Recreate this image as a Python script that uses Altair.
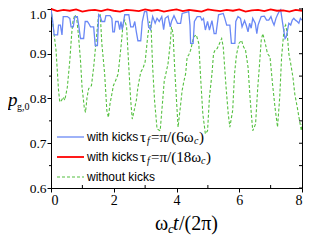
import altair as alt
import pandas as pd

# ---- data ----
blue_t = [0.0, 0.05, 0.1, 0.21, 0.24, 0.3, 0.35, 0.39, 0.52, 0.6, 0.64, 0.71, 0.76, 0.84, 0.89,
          0.94, 1.04, 1.09, 1.16, 1.2, 1.26, 1.36, 1.41, 1.48, 1.52, 1.57, 1.62, 1.71, 1.75, 1.88,
          1.94, 1.97, 2.02, 2.06, 2.14, 2.19, 2.23, 2.27, 2.35, 2.48, 2.54, 2.62, 2.67, 2.72, 2.77,
          2.86, 2.91, 2.98, 3.05, 3.11, 3.17, 3.24, 3.32, 3.38, 3.45, 3.53, 3.59, 3.64, 3.73, 3.8,
          3.84, 3.92, 4.03, 4.13, 4.18, 4.39, 4.43, 4.45, 4.53, 4.57, 4.66, 4.76, 4.81, 4.86, 4.92,
          4.99, 5.05, 5.13, 5.2, 5.26, 5.34, 5.49, 5.54, 5.6, 5.7, 5.75, 5.86, 5.89, 5.96, 6.04,
          6.09, 6.17, 6.22, 6.28, 6.33, 6.38, 6.43, 6.51, 6.56, 6.6, 6.64, 6.7, 6.8, 6.87, 6.94,
          7.01, 7.06, 7.11, 7.17, 7.22, 7.27, 7.32, 7.4, 7.46, 7.5, 7.58, 7.64, 7.69, 7.74, 7.79,
          7.85, 7.9, 7.95, 8.0]
blue_v = [1.0, 0.975, 0.942, 0.942, 0.964, 0.964, 0.942, 0.983, 0.983, 0.979, 0.96, 0.96, 0.983, 0.983, 0.96,
          0.934, 0.934, 0.972, 0.972, 0.968, 0.96, 0.96, 0.918, 0.918, 0.987, 0.983, 0.972, 0.972, 0.985, 0.985,
          0.979, 0.949, 0.949, 0.972, 0.972, 0.954, 0.972, 0.954, 0.987, 0.987, 0.96, 0.96, 0.972, 0.949, 0.929,
          0.929, 0.972, 0.994, 0.994, 0.96, 0.954, 0.983, 0.968, 0.979, 0.972, 0.983, 0.954, 0.979, 0.984, 0.96,
          0.972, 0.985, 0.968, 0.968, 0.99, 0.994, 0.964, 0.923, 0.923, 0.972, 0.983, 0.983, 0.975, 0.979, 0.953,
          0.972, 0.953, 0.974, 0.945, 0.945, 0.987, 0.99, 0.979, 0.964, 0.964, 0.923, 0.923, 0.972, 0.983, 0.979,
          0.96, 0.974, 0.964, 0.949, 0.968, 0.957, 0.979, 0.968, 0.945, 0.964, 0.972, 0.983, 0.984, 0.975, 0.975,
          0.983, 0.972, 0.964, 0.979, 0.987, 0.994, 0.998, 0.96, 0.934, 0.938, 0.968, 0.964, 0.975, 0.979, 0.975,
          0.972, 0.968, 0.979, 0.975]

green_t = [0.0, 0.16, 0.24, 0.28, 0.34, 0.39, 0.44, 0.52, 0.6, 0.66, 0.7, 0.76, 0.82, 0.87, 0.94,
           0.99, 1.06, 1.1, 1.15, 1.2, 1.29, 1.36, 1.44, 1.52, 1.57, 1.62, 1.71, 1.78, 1.83, 1.88,
           1.94, 1.99, 2.06, 2.14, 2.23, 2.3, 2.35, 2.41, 2.48, 2.54, 2.59, 2.65, 2.72, 2.77, 2.86,
           2.93, 3.0, 3.07, 3.14, 3.19, 3.24, 3.3, 3.38, 3.48, 3.56, 3.61, 3.66, 3.73, 3.8, 3.84,
           3.89, 3.94, 4.0, 4.05, 4.11, 4.18, 4.24, 4.29, 4.34, 4.39, 4.45, 4.55, 4.63, 4.71, 4.78,
           4.84, 4.92, 4.99, 5.05, 5.13, 5.18, 5.23, 5.3, 5.37, 5.44, 5.49, 5.58, 5.65, 5.7, 5.79,
           5.85, 5.91, 5.99, 6.07, 6.14, 6.2, 6.28, 6.35, 6.43, 6.52, 6.59, 6.64, 6.7, 6.75, 6.83,
           6.9, 6.98, 7.06, 7.14, 7.22, 7.29, 7.35, 7.43, 7.48, 7.53, 7.58, 7.64, 7.71, 7.77, 7.85,
           7.92, 7.98, 8.0]
green_v = [1.0, 0.908, 0.818, 0.792, 0.796, 0.803, 0.796, 0.825, 0.885, 0.945, 0.972, 0.987, 0.979, 0.945, 0.885,
           0.825, 0.78, 0.769, 0.803, 0.822, 0.829, 0.87, 0.93, 0.99, 0.987, 0.923, 0.855, 0.773, 0.758, 0.788,
           0.81, 0.829, 0.84, 0.855, 0.915, 0.968, 0.975, 0.96, 0.87, 0.796, 0.754, 0.773, 0.796, 0.825, 0.859,
           0.867, 0.882, 0.93, 0.972, 0.96, 0.87, 0.796, 0.732, 0.728, 0.796, 0.84, 0.855, 0.878, 0.923, 0.96,
           0.945, 0.87, 0.796, 0.736, 0.773, 0.818, 0.84, 0.855, 0.893, 0.897, 0.908, 0.938, 0.942, 0.923, 0.833,
           0.765, 0.721, 0.728, 0.803, 0.855, 0.9, 0.908, 0.912, 0.923, 0.934, 0.915, 0.825, 0.765, 0.736, 0.773,
           0.855, 0.897, 0.923, 0.93, 0.915, 0.908, 0.87, 0.796, 0.728, 0.743, 0.825, 0.87, 0.93, 0.945, 0.923,
           0.9, 0.893, 0.833, 0.78, 0.736, 0.803, 0.893, 0.957, 0.964, 0.945, 0.9, 0.878, 0.848, 0.81, 0.78,
           0.751, 0.728, 0.743]

red_t = [0.0, 0.2, 0.4, 0.6, 0.8, 1.0, 1.2, 1.4, 1.6, 1.8, 2.0, 2.2, 2.4, 2.6, 2.8, 3.0, 3.2, 3.4, 3.6, 3.8,
         4.0, 4.2, 4.4, 4.6, 4.8, 5.0, 5.2, 5.4, 5.6, 5.8, 6.0, 6.2, 6.4, 6.6, 6.8, 7.0, 7.2, 7.4, 7.6, 7.8, 8.0]
red_v = [1.0, 0.995, 0.998, 0.996, 0.999, 0.994, 0.997, 0.998, 0.995, 0.999, 0.996, 0.994, 0.998, 0.997, 0.995,
         0.999, 0.996, 0.998, 0.994, 0.997, 0.999, 0.995, 0.998, 0.996, 0.994, 0.999, 0.997, 0.995, 0.998, 0.996,
         0.999, 0.994, 0.997, 0.998, 0.995, 0.999, 0.996, 0.997, 0.994, 0.998, 0.996]

y_major = [0.6, 0.7, 0.8, 0.9, 1.0]
y_minor = [0.65, 0.75, 0.85, 0.95]
x_major = [0, 2, 4, 6, 8]
x_minor = [1, 3, 5, 7]

BLUE = "#6a88f5"
RED = "#ff0000"
GREEN = "#55c040"
SERIF = "Liberation Serif"
SANS = "Liberation Sans"

W, H = 251, 188

xs = alt.Scale(domain=[0, 8], nice=False)
ys = alt.Scale(domain=[0.6, 1.02], nice=False, zero=False)
x_axis = alt.Axis(values=x_major, format="d", tickSize=4, labelPadding=1, title=None,
                  labelFont=SERIF, labelFontSize=14, labelColor="black")
y_axis = alt.Axis(values=y_major, format=".1f", tickSize=4, labelPadding=1, title=None,
                  labelFont=SERIF, labelFontSize=13.5, labelColor="black",
                  labelOffset={"condition": {"test": "datum.value >= 0.99", "value": 6}, "value": 0})


def line(t, v, color, width, dash=None):
    df = pd.DataFrame({"t": t, "v": v})
    kw = dict(color=color, strokeWidth=width, clip=True)
    if dash:
        kw["strokeDash"] = dash
    return alt.Chart(df).mark_line(**kw).encode(
        x=alt.X("t:Q", scale=xs, axis=x_axis),
        y=alt.Y("v:Q", scale=ys, axis=y_axis),
    )


layers = [
    line(green_t, green_v, GREEN, 1.1, [3, 2]),
    line(blue_t, blue_v, BLUE, 1.3),
    line(red_t, red_v, RED, 1.8),
]

# minor / mirrored ticks
ly = pd.DataFrame({"v": y_minor})
layers.append(alt.Chart(ly).mark_rule(color="black", strokeWidth=1).encode(
    y=alt.Y("v:Q", scale=ys, axis=y_axis), x=alt.value(-2), x2=alt.value(0)))
ry = pd.DataFrame({"v": y_major + y_minor})
layers.append(alt.Chart(ry).mark_rule(color="black", strokeWidth=1).encode(
    y=alt.Y("v:Q", scale=ys, axis=y_axis), x=alt.value(W - 3), x2=alt.value(W)))
bx = pd.DataFrame({"t": x_minor})
layers.append(alt.Chart(bx).mark_rule(color="black", strokeWidth=1).encode(
    x=alt.X("t:Q", scale=xs, axis=x_axis), y=alt.value(H - 3), y2=alt.value(H)))


def txt(s, x, y, font=SERIF, size=14, style="normal", align="left"):
    return alt.Chart(pd.DataFrame({"a": [0]})).mark_text(
        text=s, font=font, fontSize=size, fontStyle=style, align=align,
        baseline="middle", color="black").encode(x=alt.value(x), y=alt.value(y))


# legend
leg_y = [137, 157, 177]
leg_col = [BLUE, RED, GREEN]
leg_w = [1.3, 1.8, 1.1]
for yy, cc, ww in zip(leg_y, leg_col, leg_w):
    kw = dict(color=cc, strokeWidth=ww)
    if cc == GREEN:
        kw["strokeDash"] = [3, 2]
    layers.append(alt.Chart(pd.DataFrame({"a": [0]})).mark_rule(**kw).encode(
        x=alt.value(6), x2=alt.value(33), y=alt.value(yy)))

layers += [
    txt("with kicks", 36, 137, font=SANS, size=12),
    txt("τ", 89, 137, size=15),
    txt("f", 96, 141, size=10, style="italic"),
    txt("=π/(6ω", 100, 137, size=15),
    txt("c", 143, 141, size=10, style="italic"),
    txt(")", 148, 137, size=15),
    txt("with kicks", 36, 157, font=SANS, size=12),
    txt("τ", 89, 157, size=15),
    txt("f", 96, 161, size=10, style="italic"),
    txt("=π/(18ω", 100, 157, size=15),
    txt("c", 150, 161, size=10, style="italic"),
    txt(")", 155, 157, size=15),
    txt("without kicks", 36, 177, font=SANS, size=12),
    # y title
    txt("p", -43, 100, size=19, style="italic"),
    txt("g,0", -34, 107, size=10),
    # x title
    txt("ω", 104, 224, size=20),
    txt("c", 117, 229, size=13, style="italic"),
    txt("t", 122, 224, size=20, style="italic"),
    txt("/(2π)", 128, 224, size=20),
]

chart = alt.layer(*layers).properties(
    width=W, height=H,
    autosize=alt.AutoSizeParams(type="none"),
    padding={"left": 43, "top": -8, "right": 1, "bottom": 53},
).configure_view(stroke="black", strokeWidth=1).configure_axis(
    grid=False, domainColor="black", tickColor="black", domainWidth=1, tickWidth=1,
    labelColor="black"
)

chart.save("out.html", embed_options={"renderer": "svg", "actions": False})
